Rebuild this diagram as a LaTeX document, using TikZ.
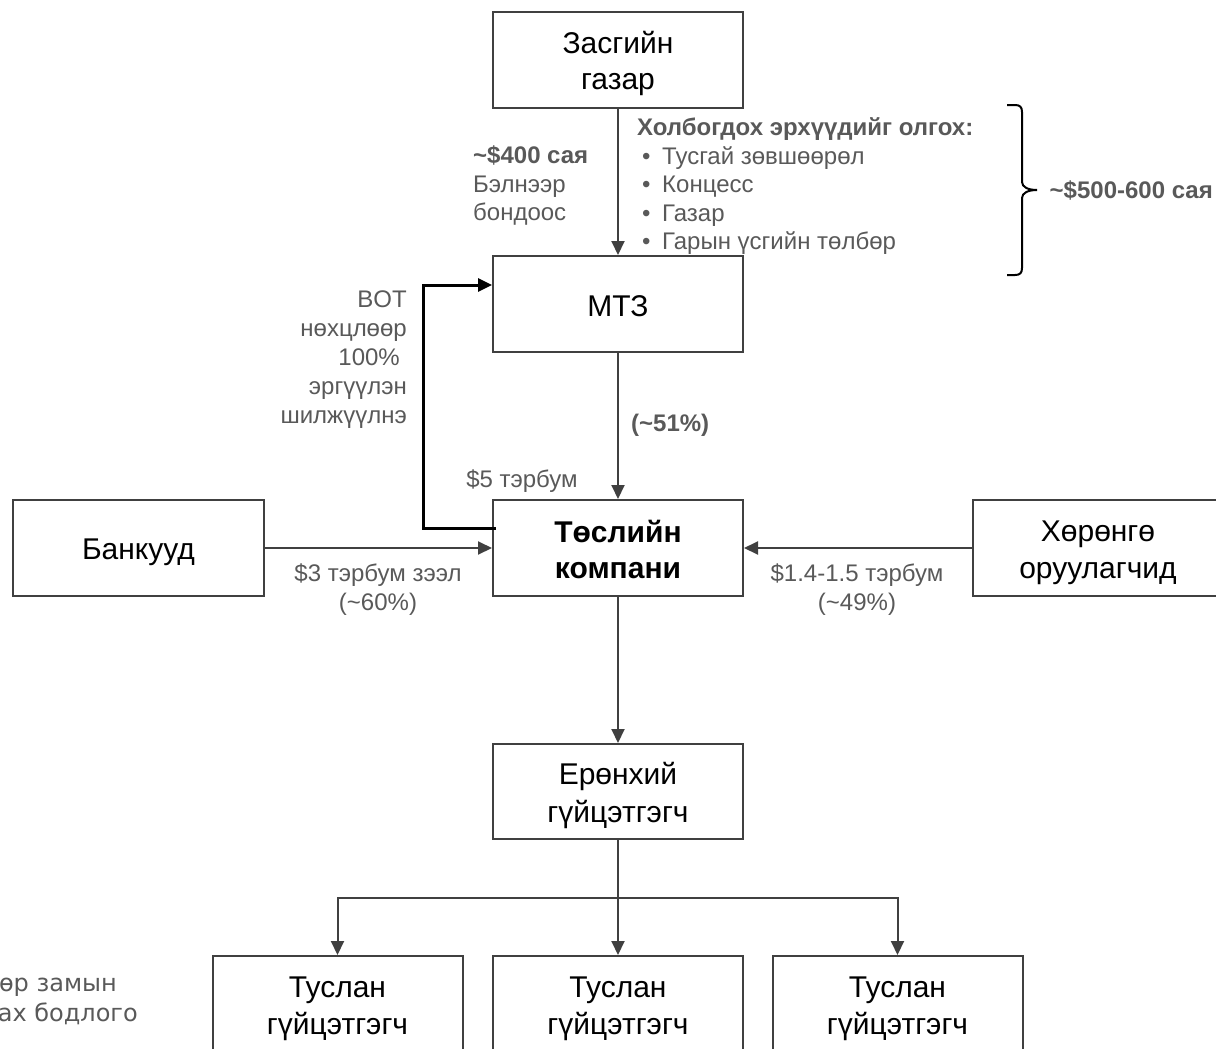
\documentclass[tikz,border=0pt]{standalone}
\usepackage{fontspec}
\setmainfont{Liberation Sans}
\newfontfamily\dvs{DejaVu Sans}
\usetikzlibrary{arrows.meta}
\definecolor{boxc}{HTML}{404040}
\definecolor{lblc}{HTML}{595959}
\newcommand{\bs}{\rule[-6pt]{0pt}{36pt}}
\begin{document}
\begin{tikzpicture}[x=1pt,y=-1pt,
 box/.style={draw=boxc, line width=2pt, minimum width=250pt, minimum height=96pt, align=center, inner sep=0pt, font=\fontsize{30}{36}\selectfont},
 arr/.style={draw=boxc, line width=2pt, -{Triangle[length=14pt,width=13pt]}},
 plainline/.style={draw=boxc, line width=2pt},
 botline/.style={draw=black, line width=3pt, line join=miter, -{Triangle[length=14pt,width=13pt]}},
 bracec/.style={draw=black, line width=2pt},
 lbl/.style={text=lblc, inner sep=0pt, font=\fontsize{24}{28}\selectfont},
 blbl/.style={text=lblc, inner sep=0pt, font=\fontsize{24}{28}\selectfont\bfseries},
 cutlbl/.style={text=lblc, inner sep=0pt, font=\dvs\fontsize{24}{28}\selectfont}
]
\useasboundingbox (0,0) rectangle (1216,1049);

% boxes
\node[box] (gov) at (618,60) {\bs Засгийн\\\bs газар};
\node[box] (mtz) at (618,304) {\bs МТЗ};
\node[box, font=\fontsize{30}{36}\selectfont\bfseries] (tc) at (618,548) {\bs Төслийн\\\bs компани};
\node[box, minimum width=251pt] (bank) at (138.5,548) {\bs Банкууд};
\node[box] (inv) at (1098,548) {\bs Хөрөнгө\\\bs оруулагчид};
\node[box, minimum height=95pt] (gen) at (618,791.5) {\bs Ерөнхий\\\bs гүйцэтгэгч};
\node[box] (sub1) at (337.5,1004) {\bs Туслан\\\bs гүйцэтгэгч};
\node[box] (sub2) at (618,1004) {\bs Туслан\\\bs гүйцэтгэгч};
\node[box] (sub3) at (897.5,1004) {\bs Туслан\\\bs гүйцэтгэгч};

% connectors
\draw[arr] (gov) -- (mtz);
\draw[arr] (mtz) -- (tc);
\draw[arr] (bank) -- (tc);
\draw[arr] (inv) -- (tc);
\draw[arr] (tc) -- (gen);
\coordinate (split) at (618,898);
\draw[plainline] (gen) -- (split);
\draw[arr] (split) -| (sub1.north);
\draw[arr] (split) -| (sub3.north);
\draw[arr] (gen) -- (sub2);
\coordinate (botc) at (423,528);
\draw[botline] ([xshift=4pt,yshift=20pt]tc.west) -- (botc) |- ([yshift=19pt]mtz.west);

% brace
\draw[bracec] (1007,105) -- (1015,105) .. controls (1020,105) and (1022,107) .. (1022,112)
  -- (1022,182) .. controls (1022,187) and (1028,190) .. (1037,190)
  .. controls (1028,190) and (1022,193) .. (1022,198)
  -- (1022,268) .. controls (1022,273) and (1020,275) .. (1015,275) -- (1007,275);

% labels
\node[blbl, anchor=base west] (l400) at (473,163.5) {\textasciitilde\$400 сая};
\node[lbl, anchor=base west] (lbel) at (473,192) {Бэлнээр};
\node[lbl, anchor=base west] (lbond) at (473,220.5) {бондоос};

\node[blbl, anchor=base west] (lhead) at (637,135.5) {Холбогдох эрхүүдийг олгох:};
\node[lbl, anchor=base west] (b1) at (642,164) {•};
\node[lbl, anchor=base west] (t1) at (662,164) {Тусгай зөвшөөрөл};
\node[lbl, anchor=base west] (b2) at (642,192.5) {•};
\node[lbl, anchor=base west] (t2) at (662,192.5) {Концесс};
\node[lbl, anchor=base west] (b3) at (642,221) {•};
\node[lbl, anchor=base west] (t3) at (662,221) {Газар};
\node[lbl, anchor=base west] (b4) at (642,249.5) {•};
\node[lbl, anchor=base west] (t4) at (662,249.5) {Гарын үсгийн төлбөр};

\node[blbl, anchor=base east] (l500) at (1213,198) {\textasciitilde\$500-600 сая};

\node[lbl, anchor=base east] (bot1) at (407,307.5) {BOT};
\node[lbl, anchor=base east] (bot2) at (407,336.5) {нөхцлөөр};
\node[lbl, anchor=base east] (bot3) at (400,365.5) {100\%};
\node[lbl, anchor=base east] (bot4) at (407,394.5) {эргүүлэн};
\node[lbl, anchor=base east] (bot5) at (407,423.5) {шилжүүлнэ};

\node[lbl, anchor=base] (l5) at (522,487.5) {\$5 тэрбум};
\node[blbl, anchor=base west] (l51) at (631,431.5) {(\textasciitilde51\%)};

\node[lbl, anchor=base] (l3a) at (378,581.5) {\$3 тэрбум зээл};
\node[lbl, anchor=base] (l3b) at (378,610.5) {(\textasciitilde60\%)};
\node[lbl, anchor=base] (l14a) at (857,581.5) {\$1.4-1.5 тэрбум};
\node[lbl, anchor=base] (l14b) at (857,610.5) {(\textasciitilde49\%)};

\node[cutlbl, anchor=base east] (cut1) at (117,991) {өр замын};
\node[cutlbl, anchor=base east] (cut2) at (138,1021) {ах бодлого};
\end{tikzpicture}
\end{document}
